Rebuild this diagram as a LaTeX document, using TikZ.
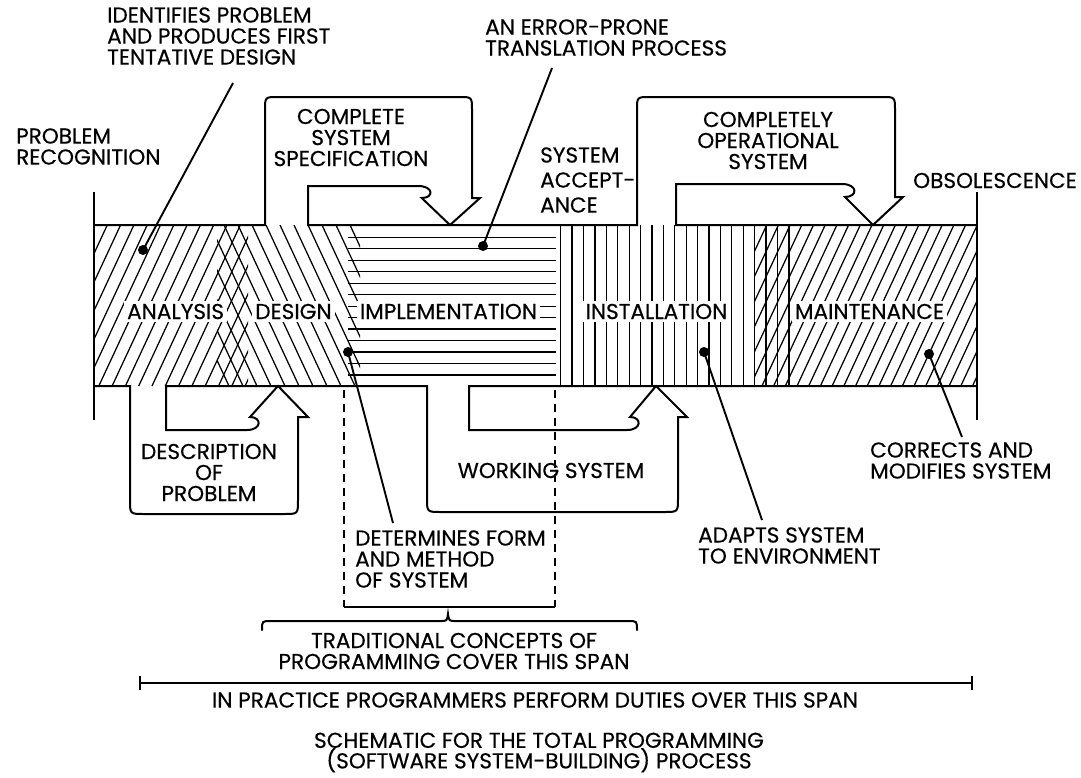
\documentclass[tikz,border=0pt]{standalone}
\usepackage{fontspec}
\setmainfont{Poppins}[FakeBold=0.4]
\begin{document}
\begin{tikzpicture}[x=1pt,y=-1pt,
  edge/.style={line width=2pt, line join=miter},
  hatch/.style={line width=1.25pt},
  lbl/.style={font=\fontsize{21.6}{21}\selectfont, inner sep=0pt},
  stage/.style={lbl, fill=white, inner sep=3pt},
  dot/.style={circle, fill=black, inner sep=0pt, minimum size=10pt},
  leader/.style={line width=1.9pt},
  dashedline/.style={line width=1.8pt, dash pattern=on 8pt off 6pt},
]
\useasboundingbox (0,0) rectangle (1081,777);

% ---------- hatching of the five phases ----------
% analysis: rising lines
\begin{scope}
  \clip (94,225) rectangle (248,386);
  \foreach \i in {0,...,18} \draw[hatch] ({19+\i*13.3},386) -- ++(75,-161);
\end{scope}
% design: falling lines
\begin{scope}
  \clip (217,225) rectangle (360,386);
  \foreach \i in {0,...,17} \draw[hatch] ({140+\i*14},225) -- ++(75,161);
\end{scope}
% implementation: horizontal lines
\foreach \k in {0,...,12} \draw[hatch] (348,{237.3+\k*11.47}) -- (556,{237.3+\k*11.47});
% installation: vertical lines
\foreach \k in {0,...,20} \draw[hatch] ({560.7+\k*11.41},225) -- ({560.7+\k*11.41},386);
% maintenance: rising lines
\begin{scope}
  \clip (755,225) rectangle (977,386);
  \foreach \i in {0,...,26} \draw[hatch] ({680+\i*11.7},386) -- ++(75,-161);
\end{scope}

% ---------- phase names ----------
\node[stage] (analysis) at (175.6,311.5) {ANALYSIS};
\node[stage] (design)   at (293.5,311.5) {DESIGN};
\node[stage] (impl)     at (448.5,311.5) {IMPLEMENTATION};
\node[stage] (install)  at (656.5,311.5) {INSTALLATION};
\node[stage] (maint)    at (869.5,311.5) {MAINTENANCE};

% ---------- end bars of the process ----------
\draw[edge] (94,192) -- (94,420);
\draw[edge] (977,192) -- (977,420);

% ---------- upper edge with the two hand-over arrows ----------
\draw[edge] (94,225) -- (265,225) -- (265,110) .. controls (265,97) .. (278,97)
  -- (459,97) .. controls (472,97) .. (472,110) -- (472,198) -- (480,198)
  -- (450,225) -- (421.7,198) .. controls (434,198) and (434,186) .. (418,186)
  -- (308,186) -- (308,225) -- (637,225)
  -- (637,110) .. controls (637,97) .. (650,97) -- (882,97)
  .. controls (895,97) .. (895,110) -- (895,197) -- (903,197)
  -- (873,225) -- (845,197) .. controls (858,197) and (858,184) .. (842,184)
  -- (676,184) -- (676,225) -- (977,225);

% ---------- lower edge with the two hand-over arrows ----------
\draw[edge] (94,386) -- (130,386) -- (130,500) .. controls (130,514) .. (144,514)
  -- (284,514) .. controls (298,514) .. (298,500) -- (298,417) -- (308,417)
  -- (278,386) -- (250,417) .. controls (262,417) and (262,430) .. (247,430)
  -- (166,430) -- (166,386) -- (427,386)
  -- (427,498) .. controls (427,512) .. (441,512) -- (664,512)
  .. controls (678,512) .. (678,498) -- (678,417) -- (687,417)
  -- (656,386) -- (630,417) .. controls (642,417) and (642,430) .. (627,430)
  -- (469,430) -- (469,386) -- (977,386);

% ---------- annotations ----------
\node[lbl, align=left, anchor=west] (identifies) at (107,36) {IDENTIFIES PROBLEM\\AND PRODUCES FIRST\\TENTATIVE DESIGN};
\node[lbl, align=left, anchor=west] (recog) at (16,146.5) {PROBLEM\\RECOGNITION};
\node[lbl, align=center] (spec) at (351,137.5) {COMPLETE\\SYSTEM\\SPECIFICATION};
\node[lbl, align=left, anchor=west] (errtext) at (485,37.5) {AN ERROR-PRONE\\TRANSLATION PROCESS};
\node[lbl, align=left, anchor=west, font=\fontsize{21.6}{25}\selectfont] (accept) at (540,180) {SYSTEM\\ACCEPT-\\ANCE};
\node[lbl, align=center] (oper) at (768,140.5) {COMPLETELY\\OPERATIONAL\\SYSTEM};
\node[lbl, anchor=west] (obsol) at (913,180.5) {OBSOLESCENCE};
\node[lbl, align=center] (descr) at (209,472.5) {DESCRIPTION\\OF\\PROBLEM};
\node[lbl] (working) at (551,470.5) {WORKING SYSTEM};
\node[lbl, align=left, anchor=west] (determ) at (355,559) {DETERMINES FORM\\AND METHOD\\OF SYSTEM};
\node[lbl, align=left, anchor=west] (adapts) at (698,545.5) {ADAPTS SYSTEM\\TO ENVIRONMENT};
\node[lbl, align=left, anchor=west] (corrects) at (870,460.5) {CORRECTS AND\\MODIFIES SYSTEM};
\node[lbl, align=center] (trad) at (454,651) {TRADITIONAL CONCEPTS OF\\PROGRAMMING COVER THIS SPAN};
\node[lbl] (practice) at (535,700) {IN PRACTICE PROGRAMMERS PERFORM DUTIES OVER THIS SPAN};
\node[lbl, align=center, font=\fontsize{21.6}{20.5}\selectfont] (title) at (539,752.5) {SCHEMATIC FOR THE TOTAL PROGRAMMING\\(SOFTWARE SYSTEM-BUILDING) PROCESS};

% ---------- leader lines with dots ----------
\node[dot] (d1) at (143,250) {};
\node[dot] (d2) at (483,246) {};
\node[dot] (d3) at (348,352) {};
\node[dot] (d4) at (704,352) {};
\node[dot] (d5) at (929,354) {};
\coordinate (e1) at (233,83);
\coordinate (e2) at (552,68);
\coordinate (e3) at (393,523);
\coordinate (e4) at (762,520);
\coordinate (e5) at (962,437);
\draw[leader] (d1.center) -- (e1);
\draw[leader] (d2.center) -- (e2);
\draw[leader] (d3.center) -- (e3);
\draw[leader] (d4.center) -- (e4);
\draw[leader] (d5.center) -- (e5);

% ---------- span of traditional programming ----------
\coordinate (bl) at (344,390);
\coordinate (br) at (555,390);
\coordinate (bbl) at (344,607);
\coordinate (bbr) at (555,607);
\draw[dashedline] (bl) -- (bbl);
\draw[dashedline] (br) -- (bbr);
\draw[edge] (bbl) -- (bbr);
\draw[edge, line cap=round] (262,630) .. controls (262,621) .. (271,621) -- (440,621)
  .. controls (447,621) .. (448,614) .. controls (449,621) .. (456,621)
  -- (628,621) .. controls (637,621) .. (637,630);

% ---------- span of practical programming ----------
\coordinate (sl) at (140,683);
\coordinate (sr) at (972,683);
\draw[edge] (sl) -- (sr);
\draw[edge] (140,676) -- (140,690);
\draw[edge] (972,676) -- (972,690);
\end{tikzpicture}
\end{document}
